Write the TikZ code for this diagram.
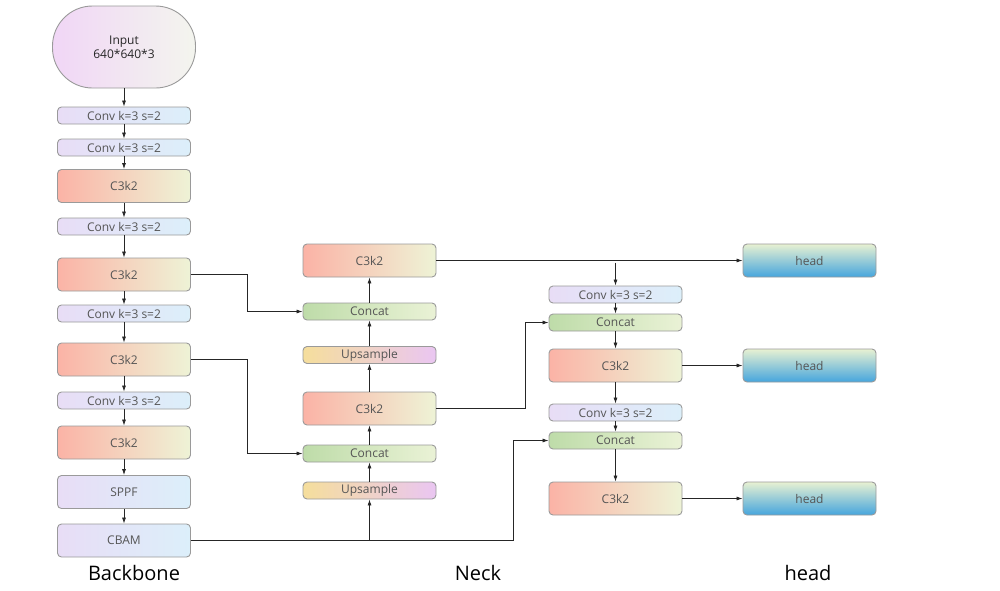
\documentclass[tikz,border=0pt]{standalone}
\usepackage{fontspec}
\setmainfont{Open Sans}
\usetikzlibrary{arrows.meta}
\definecolor{bd}{HTML}{9A9A9A}
\definecolor{tx}{HTML}{555555}
\begin{document}
\begin{tikzpicture}[x=1pt,y=-1pt,
  box/.style={draw=bd,line width=0.9pt,rounded corners=4pt,minimum width=133pt,text=tx,font=\fontsize{12}{14}\selectfont,inner sep=0pt},
  thin/.style={box,minimum height=17pt},
  big/.style={box,minimum height=33pt},
  convc/.style={left color=E8DDF6,right color=DCEFFA},
  c3c/.style={left color=FBB3A6,right color=EEF3D6},
  catc/.style={left color=BEDCA9,right color=EAF2D6},
  upc/.style={left color=F5DE9C,right color=EAC6F2},
  headc/.style={shading=axis,shading angle=-60,top color=E8F1D2,bottom color=45A5DD},
  arr/.style={-{Latex[length=6pt,width=4pt]},line width=0.7pt,draw=black!85},
  lbl/.style={font=\fontsize{20}{24}\selectfont}]
\definecolor{E8DDF6}{HTML}{E8DDF6}\definecolor{DCEFFA}{HTML}{DCEFFA}
\definecolor{FBB3A6}{HTML}{FBB3A6}\definecolor{EEF3D6}{HTML}{EEF3D6}
\definecolor{BEDCA9}{HTML}{BEDCA9}\definecolor{EAF2D6}{HTML}{EAF2D6}
\definecolor{F5DE9C}{HTML}{F5DE9C}\definecolor{EAC6F2}{HTML}{EAC6F2}
\definecolor{E8F1D2}{HTML}{E8F1D2}\definecolor{45A5DD}{HTML}{45A5DD}
\definecolor{F1D6F6}{HTML}{F1D6F6}\definecolor{F3F5EE}{HTML}{F3F5EE}
\useasboundingbox (0,0) rectangle (1000,590);
% backbone
\node[box,minimum width=143pt,minimum height=82pt,rounded corners=40pt,left color=F1D6F6,right color=F3F5EE,align=center,text=black!85] (in) at (124,47) {Input\\640*640*3};
\node[thin,convc] (b1) at (124,115.5) {Conv k=3 s=2};
\node[thin,convc] (b2) at (124,147.5) {Conv k=3 s=2};
\node[big,c3c] (b3) at (124,186) {C3k2};
\node[thin,convc] (b4) at (124,226.5) {Conv k=3 s=2};
\node[big,c3c] (b5) at (124,274.5) {C3k2};
\node[thin,convc] (b6) at (124,313.5) {Conv k=3 s=2};
\node[big,c3c] (b7) at (124,359.5) {C3k2};
\node[thin,convc] (b8) at (124,400.5) {Conv k=3 s=2};
\node[big,c3c] (b9) at (124,442.5) {C3k2};
\node[big,convc] (sp) at (124,492) {SPPF};
\node[big,convc] (cb) at (124,540.5) {CBAM};
\foreach \a/\b in {in/b1,b1/b2,b2/b3,b3/b4,b4/b5,b5/b6,b6/b7,b7/b8,b8/b9,b9/sp,sp/cb}
  \draw[arr] (\a) -- (\b);
% neck
\node[big,c3c] (n1) at (369.5,260.5) {C3k2};
\node[thin,catc] (n2) at (369.5,311.5) {Concat};
\node[thin,upc] (n3) at (369.5,355) {Upsample};
\node[big,c3c] (n4) at (369.5,408.5) {C3k2};
\node[thin,catc] (n5) at (369.5,453.5) {Concat};
\node[thin,upc] (n6) at (369.5,490.5) {Upsample};
\foreach \a/\b in {n6/n5,n5/n4,n4/n3,n3/n2,n2/n1}
  \draw[arr] (\a) -- (\b);
% right
\node[thin,convc] (r1) at (615.5,294.5) {Conv k=3 s=2};
\node[thin,catc] (r2) at (615.5,322.5) {Concat};
\node[big,c3c] (r3) at (615.5,365.5) {C3k2};
\node[thin,convc] (r4) at (615.5,412.5) {Conv k=3 s=2};
\node[thin,catc] (r5) at (615.5,440.5) {Concat};
\node[big,c3c] (r6) at (615.5,498.5) {C3k2};
\foreach \a/\b in {r1/r2,r2/r3,r3/r4,r4/r5,r5/r6}
  \draw[arr] (\a) -- (\b);
\node[big,headc] (h1) at (809.5,260.5) {head};
\node[big,headc] (h2) at (809.5,365.5) {head};
\node[big,headc] (h3) at (809.5,498.5) {head};
% cross links
\draw[arr] (b5.east) -| (247,311.5) -- (n2.west);
\draw[arr] (b7.east) -| (247,453.5) -- (n5.west);
\draw[arr] (cb.east) -| (n6.south);
\draw[arr] (cb.east) -| (513,440.5) -- (r5.west);
\draw[arr] (n4.east) -| (525,322.5) -- (r2.west);
\draw[arr] (n1.east) -- (h1.west);
\coordinate (t) at (615.5,262.5);
\draw[arr] (t) -- (r1.north);
\draw[arr] (r3.east) -- (h2.west);
\draw[arr] (r6.east) -- (h3.west);
% labels
\node[lbl] (lb) at (134,573) {Backbone};
\node[lbl] (ln) at (478,573) {Neck};
\node[lbl] (lh) at (808,573) {head};
\end{tikzpicture}
\end{document}
